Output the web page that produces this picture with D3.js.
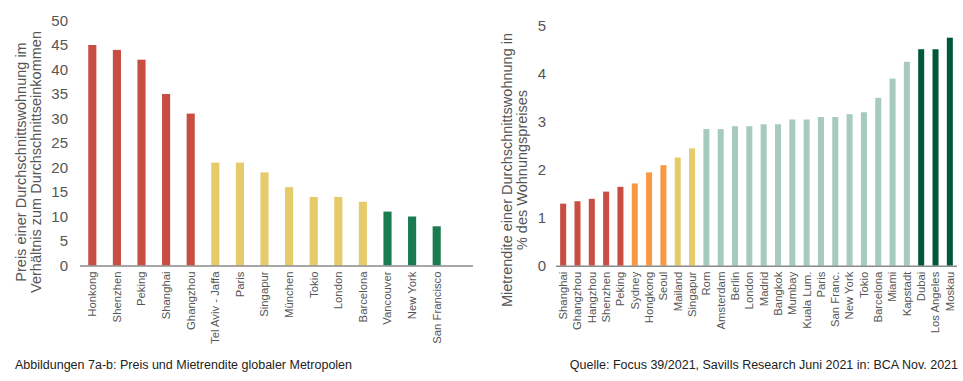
<!DOCTYPE html>
<html><head><meta charset="utf-8">
<script src="https://cdn.jsdelivr.net/npm/d3@7"></script>
<style>
html,body{margin:0;padding:0;background:#fff;}
svg{display:block;font-family:"Liberation Sans",Arial,sans-serif;}
</style></head>
<body>
<svg id="c" width="963" height="381"></svg>
<script>
// Chart a: price-to-income ratio
const citiesA = ["Honkong","Shenzhen","Peking","Shanghai","Ghangzhou","Tel Aviv - Jaffa","Paris","Singapur","München","Tokio","London","Barcelona","Vancouver","New York","San Francisco"];
const valuesA = [45,44,42,35,31,21,21,19,16,14,14,13,11,10,8];
const groupA = ["r","r","r","r","r","y","y","y","y","y","y","y","g","g","g"];
const ticksA = [0,5,10,15,20,25,30,35,40,45,50];

// Chart b: rental yield in %
const citiesB = ["Shanghai","Ghangzhou","Hangzhou","Shenzhen","Peking","Sydney","Hongkong","Seoul","Mailand","Singapur","Rom","Amsterdam","Berlin","London","Madrid","Bangkok","Mumbay","Kuala Lum.","Paris","San Franc.","New York","Tokio","Barcelona","Miami","Kapstadt","Dubai","Los Angeles","Moskau"];
const valuesB = [1.29,1.34,1.39,1.54,1.64,1.71,1.94,2.09,2.25,2.44,2.84,2.84,2.9,2.9,2.94,2.94,3.04,3.04,3.09,3.09,3.15,3.19,3.49,3.89,4.24,4.5,4.5,4.74];
const groupB = ["r","r","r","r","r","o","o","o","y","y","l","l","l","l","l","l","l","l","l","l","l","l","l","l","l","d","d","d"];
const ticksB = [0,1,2,3,4,5];

const colors = {r:"#C84D43", o:"#F99843", y:"#E6CB6A", g:"#1A7A50", l:"#A6CBBC", d:"#00573A"};
const textCol = "#555";

const svg = d3.select("#c");

function panel(cfg){
  const x = d3.scaleBand().domain(cfg.cats).range(cfg.xr).padding(0);
  const y = d3.scaleLinear().domain(cfg.yd).range(cfg.yr);
  const g = svg.append("g");
  const bw = x.bandwidth()*cfg.barFrac;
  g.selectAll("rect").data(cfg.cats).join("rect")
    .attr("x", (d)=>x(d)+x.bandwidth()/2-bw/2)
    .attr("width", bw)
    .attr("y", (d,i)=>y(cfg.vals[i]))
    .attr("height", (d,i)=>y(0)-y(cfg.vals[i]))
    .attr("fill", (d,i)=>colors[cfg.groups[i]]);
  // baseline
  g.append("line").attr("x1",cfg.lineX[0]).attr("x2",cfg.lineX[1])
    .attr("y1",y(0)+0.5).attr("y2",y(0)+0.5)
    .attr("stroke","#8a8a8a").attr("stroke-width",1.5);
  // y ticks
  g.selectAll("text.yt").data(cfg.ticks).join("text").attr("class","yt")
    .attr("x",cfg.tickX).attr("y",d=>y(d)).attr("dy","0.36em")
    .attr("text-anchor","end").attr("fill",textCol)
    .attr("font-size",15).text(d=>d);
  // category labels
  g.selectAll("text.xl").data(cfg.cats).join("text").attr("class","xl")
    .attr("transform",d=>`translate(${x(d)+x.bandwidth()/2+3.9},${y(0)+6}) rotate(-90)`)
    .attr("text-anchor","end").attr("fill",textCol)
    .attr("font-size",cfg.labelSize).text(d=>d);
  // y title
  const t = g.append("text").attr("transform",`translate(${cfg.titleX},${cfg.titleY}) rotate(-90)`)
    .attr("text-anchor","middle").attr("fill",textCol).attr("font-size",cfg.titleSize);
  cfg.title.forEach((s,i)=>t.append("tspan").attr("x",0).attr("dy", i===0?0:cfg.titleLH).text(s));
}

panel({cats:citiesA, vals:valuesA, groups:groupA, ticks:ticksA,
  xr:[80,449], yd:[0,50], yr:[265.5,20.5], barFrac:0.33, lineX:[80,473],
  tickX:68, labelSize:11.3, titleX:26, titleY:162, titleSize:14.5, titleLH:15,
  title:["Preis einer Durchschnittswohnung im","Verhältnis zum Durchschnittseinkommen"]});

panel({cats:citiesB, vals:valuesB, groups:groupB, ticks:ticksB,
  xr:[556,957], yd:[0,5], yr:[265.7,25.2], barFrac:0.42, lineX:[556,957],
  tickX:546, labelSize:11.3, titleX:512, titleY:170, titleSize:14.5, titleLH:15,
  title:["Mietrendite einer Durchschnittswohnung in","% des Wohnungspreises"]});

svg.append("text").attr("x",15).attr("y",369).attr("fill","#222").attr("font-size",12.5)
  .text("Abbildungen 7a-b: Preis und Mietrendite globaler Metropolen");
svg.append("text").attr("x",958).attr("y",369).attr("text-anchor","end").attr("fill","#222").attr("font-size",12.5)
  .text("Quelle: Focus 39/2021, Savills Research Juni 2021 in: BCA Nov. 2021");
</script>
</body></html>
